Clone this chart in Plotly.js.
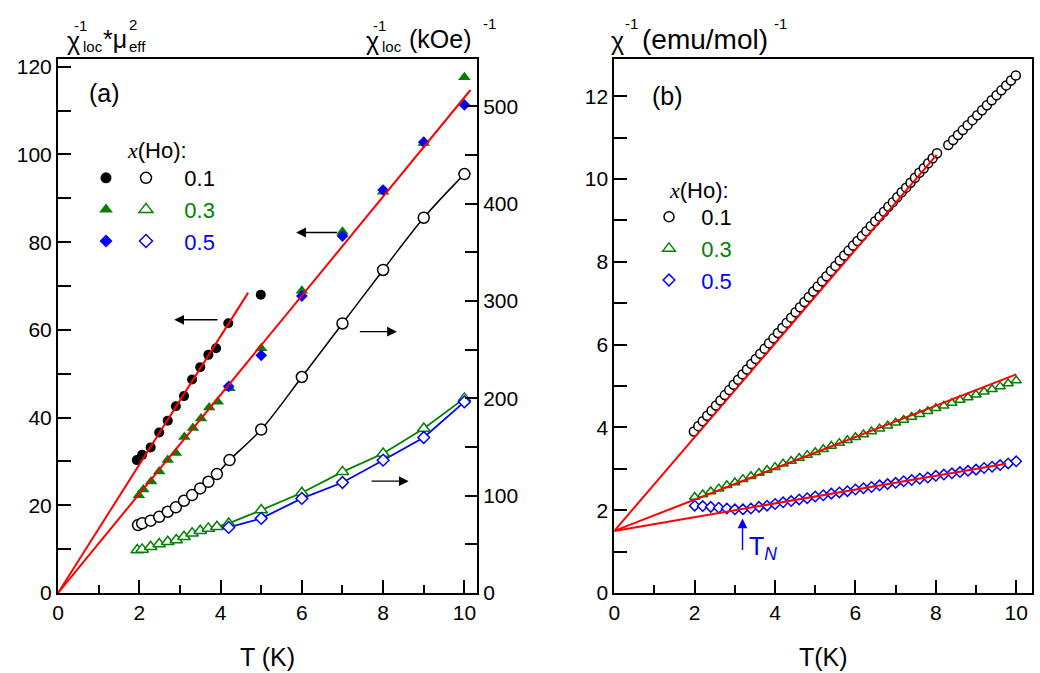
<!DOCTYPE html>
<html>
<head>
<meta charset="utf-8">
<script src="https://cdn.plot.ly/plotly-3.0.1.min.js"></script>
<style>html,body{margin:0;padding:0;background:#fff;}#chart{width:1040px;height:673px;}</style>
</head>
<body>
<div id="chart"></div>
<script>
// ---------- Panel (a) data ----------
// left axis: chi_loc^-1 * mu_eff^2 (filled symbols)
const a_T_fill01 = [1.94, 2.07, 2.28, 2.49, 2.70, 2.90, 3.10, 3.30, 3.50, 3.70, 3.89, 4.19, 4.99];
const a_y_fill01 = [30.3, 31.5, 33.2, 36.6, 39.3, 42.6, 44.9, 48.7, 51.5, 54.3, 55.8, 61.5, 68.0];
const a_T_fill03 = [1.99, 2.10, 2.29, 2.49, 2.70, 2.90, 3.11, 3.32, 3.52, 3.72, 3.93, 4.22, 5, 6, 7, 8, 9, 10];
const a_y_fill03 = [22.3, 23.6, 25.4, 27.7, 30.3, 31.9, 35.6, 37.6, 39.8, 42.3, 43.6, 46.7, 55.8, 68.9, 82.4, 91.5, 102.6, 117.6];
const a_T_fill05 = [4.2, 5, 6, 7, 8, 9, 10];
const a_y_fill05 = [47.1, 54.2, 67.7, 81.4, 91.9, 102.8, 111.3];
// right axis: chi_loc^-1 (kOe)^-1 (open symbols)
const a_T_open01 = [1.97, 2.07, 2.28, 2.49, 2.70, 2.90, 3.10, 3.30, 3.50, 3.70, 3.91, 4.22, 5, 6, 7, 8, 9, 10];
const a_y_open01 = [69.8, 71.6, 74.3, 78.3, 83.5, 88.0, 94.8, 100.6, 107.5, 114.3, 122.2, 136.6, 168, 222, 277, 332, 385.7, 430.5];
const a_T_open03 = [1.95, 2.07, 2.28, 2.49, 2.70, 2.91, 3.10, 3.30, 3.50, 3.70, 3.91, 4.20, 5, 6, 7, 8, 9, 10];
const a_y_open03 = [44.1, 44.8, 47.5, 50.3, 52.7, 54.4, 57.8, 61.3, 64.0, 66.4, 68.1, 71.5, 85.2, 103, 124.5, 143.4, 169, 200];
const a_T_open05 = [4.2, 5, 6, 7, 8, 9, 10];
const a_y_open05 = [67.4, 76.7, 97.2, 113.6, 136.5, 159.8, 196.4];
// linear fits (left axis)
const a_fit1_T = [0, 4.68];
const a_fit1_y = [0, 68.5];
const a_fit2_T = [0, 10.15];
const a_fit2_y = [0, 114.7];

// ---------- Panel (b) data ----------
const b_T_01 = [1.98,2.09,2.20,2.31,2.42,2.53,2.64,2.75,2.86,2.97,3.08,3.19,3.30,3.41,3.52,3.63,3.74,3.85,3.96,4.07,4.18,4.29,4.40,4.51,4.62,4.73,4.84,4.95,5.06,5.17,5.28,5.39,5.50,5.61,5.72,5.83,5.94,6.05,6.16,6.27,6.38,6.49,6.60,6.71,6.82,6.93,7.04,7.15,7.26,7.37,7.48,7.59,7.70,7.81,7.92,8.03,8.31,8.43,8.55,8.67,8.79,8.91,9.03,9.15,9.27,9.39,9.51,9.63,9.75,9.87,9.99];
const b_y_01 = [3.90,4.03,4.15,4.28,4.40,4.53,4.65,4.78,4.90,5.03,5.15,5.28,5.40,5.53,5.65,5.78,5.90,6.03,6.15,6.28,6.40,6.53,6.65,6.78,6.90,7.03,7.15,7.28,7.40,7.53,7.65,7.78,7.90,8.03,8.15,8.27,8.39,8.50,8.62,8.74,8.86,8.98,9.09,9.21,9.33,9.44,9.56,9.68,9.79,9.91,10.03,10.15,10.26,10.38,10.50,10.62,10.82,10.94,11.06,11.18,11.30,11.42,11.54,11.66,11.78,11.90,12.02,12.14,12.26,12.38,12.50];
const b_T_03 = [2.0,2.2,2.4,2.6,2.8,3.0,3.2,3.4,3.6,3.8,4.0,4.2,4.4,4.6,4.8,5.0,5.2,5.4,5.6,5.8,6.0,6.2,6.4,6.6,6.8,7.0,7.2,7.4,7.6,7.8,8.0,8.2,8.4,8.6,8.8,9.0,9.2,9.4,9.6,9.8,10.0];
const b_y_03 = [2.32,2.38,2.45,2.52,2.60,2.67,2.75,2.82,2.90,2.97,3.04,3.12,3.19,3.26,3.33,3.40,3.47,3.55,3.62,3.69,3.76,3.83,3.90,3.97,4.04,4.11,4.18,4.25,4.32,4.39,4.46,4.52,4.59,4.66,4.72,4.79,4.86,4.92,4.99,5.06,5.13];
const b_T_05 = [2.0,2.2,2.4,2.6,2.8,3.0,3.2,3.4,3.6,3.8,4.0,4.2,4.4,4.6,4.8,5.0,5.2,5.4,5.6,5.8,6.0,6.2,6.4,6.6,6.8,7.0,7.2,7.4,7.6,7.8,8.0,8.2,8.4,8.6,8.8,9.0,9.2,9.4,9.6,9.8,10.0];
const b_y_05 = [2.11,2.10,2.08,2.06,2.04,2.02,2.02,2.04,2.08,2.11,2.15,2.19,2.22,2.26,2.29,2.33,2.36,2.40,2.43,2.46,2.50,2.53,2.56,2.60,2.63,2.66,2.70,2.73,2.76,2.79,2.83,2.86,2.89,2.92,2.95,2.98,3.02,3.05,3.09,3.13,3.18];
const b_fit01_T = [0, 8.02];
const b_fit01_y = [1.5, 10.58];
const b_fit03_T = [0, 10.0];
const b_fit03_y = [1.5, 5.28];
const b_fit05_T = [0, 9.75];
const b_fit05_y = [1.5, 3.12];

const seriesLabels = ['0.1', '0.3', '0.5'];
const T_N = 3.19;

// ---------- style ----------
const FONT = 'Liberation Sans, Arial, Helvetica, sans-serif';
const BLACK = '#000000', GREEN = '#008000', BLUE = '#0000ff', RED = '#ff0000';
const W = 1040, H = 673;

function mk(x, y, xa, ya, symbol, size, color, open) {
  return {
    type: 'scatter', mode: 'markers', x: x, y: y, xaxis: xa, yaxis: ya,
    marker: {symbol: symbol, size: size, color: open ? 'white' : color,
             line: {color: color, width: open ? 1.5 : 0}},
    showlegend: false, hoverinfo: 'skip'
  };
}
function ln(x, y, xa, ya, color, width, shape) {
  return {type: 'scatter', mode: 'lines', x: x, y: y, xaxis: xa, yaxis: ya,
          line: {color: color, width: width, shape: shape || 'linear'},
          showlegend: false, hoverinfo: 'skip'};
}
const col = (c, t) => '<span style="color:' + c + '">' + t + '</span>';

const traces = [
  // panel (a) connecting lines (right axis)
  ln(a_T_open01, a_y_open01, 'x', 'y2', BLACK, 1.5, 'spline'),
  ln(a_T_open03, a_y_open03, 'x', 'y2', GREEN, 1.8),
  ln(a_T_open05, a_y_open05, 'x', 'y2', BLUE, 1.8),
  // open markers (right axis)
  mk(a_T_open01, a_y_open01, 'x', 'y2', 'circle', 11, BLACK, true),
  mk(a_T_open03, a_y_open03, 'x', 'y2', 'triangle-up', 11, GREEN, true),
  mk(a_T_open05, a_y_open05, 'x', 'y2', 'diamond', 9, BLUE, true),
  // filled markers (left axis)
  mk(a_T_fill01, a_y_fill01, 'x', 'y', 'circle', 10, BLACK, false),
  mk(a_T_fill03, a_y_fill03, 'x', 'y', 'triangle-up', 11, GREEN, false),
  mk(a_T_fill05, a_y_fill05, 'x', 'y', 'diamond', 9, BLUE, false),
  // fits
  ln(a_fit1_T, a_fit1_y, 'x', 'y', RED, 2),
  ln(a_fit2_T, a_fit2_y, 'x', 'y', RED, 2),
  // panel (b)
  mk(b_T_01, b_y_01, 'x2', 'y3', 'circle', 9, BLACK, true),
  mk(b_T_03, b_y_03, 'x2', 'y3', 'triangle-up', 9, GREEN, true),
  mk(b_T_05, b_y_05, 'x2', 'y3', 'diamond', 8, BLUE, true),
  ln(b_fit01_T, b_fit01_y, 'x2', 'y3', RED, 2),
  ln(b_fit03_T, b_fit03_y, 'x2', 'y3', RED, 2),
  ln(b_fit05_T, b_fit05_y, 'x2', 'y3', RED, 2),
];

// legend-only entries (no data points drawn)
const legSym = [['circle', BLACK, 11], ['triangle-up', GREEN, 12], ['diamond', BLUE, 10]];
legSym.forEach(([s, c, z], i) => traces.push({type: 'scatter', mode: 'markers', x: [null], y: [null], xaxis: 'x', yaxis: 'y',
  name: '&nbsp;', legend: 'legend', marker: {symbol: s, size: z, color: c}, showlegend: true, hoverinfo: 'skip'}));
legSym.forEach(([s, c, z], i) => traces.push({type: 'scatter', mode: 'markers', x: [null], y: [null], xaxis: 'x', yaxis: 'y',
  name: '&nbsp;&nbsp;&nbsp;' + col(c, seriesLabels[i]), legend: 'legend2',
  marker: {symbol: s, size: z, color: 'white', line: {color: c, width: 1.5}}, showlegend: true, hoverinfo: 'skip'}));
legSym.forEach(([s, c, z], i) => traces.push({type: 'scatter', mode: 'markers', x: [null], y: [null], xaxis: 'x2', yaxis: 'y3',
  name: '&nbsp;&nbsp;' + col(c, seriesLabels[i]), legend: 'legend3',
  marker: {symbol: s, size: z - 1, color: 'white', line: {color: c, width: 1.5}}, showlegend: true, hoverinfo: 'skip'}));

const axBase = {
  showline: true, linecolor: 'black', linewidth: 2, showgrid: false, zeroline: false,
  ticks: 'inside', tickcolor: 'black', tickwidth: 2, ticklen: 13,
  tickfont: {family: FONT, size: 21, color: 'black'}, fixedrange: true
};
const yDom = [(H - 593) / H, (H - 59.3) / H];

function P(px, py, text, size, extra) {
  return Object.assign({xref: 'paper', yref: 'paper', x: px / W, y: 1 - py / H, xanchor: 'left', yanchor: 'middle',
    text: text, showarrow: false, font: {family: FONT, size: size, color: 'black'}}, extra || {});
}
function arrow(xa, ya, hx, hy, tx, ty, color) {
  return {xref: xa, yref: ya, axref: xa, ayref: ya, x: hx, y: hy, ax: tx, ay: ty, text: '',
    showarrow: true, arrowhead: 2, arrowsize: 1.4, arrowwidth: 1.4, arrowcolor: color};
}
const xItal = '<span style="font-family:Liberation Serif,Times New Roman,serif"><i>x</i></span>(Ho):';

const annotations = [
  // top-left title
  P(65, 41, 'χ', 25), P(72, 26, '-1', 15), P(81, 47, 'loc', 15), P(101, 39, '*μ', 25), P(127, 25, '2', 15), P(127, 47, 'eff', 15),
  // top-right title of (a)
  P(364, 41, 'χ', 25), P(371, 26, '-1', 15), P(380, 47, 'loc', 15), P(407, 39, '(kOe)', 25), P(481, 24, '-1', 15),
  // title of (b)
  P(609, 41, 'χ', 25), P(623, 24, '-1', 15), P(640, 39, '(emu/mol)', 28), P(772, 24, '-1', 15),
  // panel labels
  P(87, 93, '(a)', 25), P(650, 96, '(b)', 25),
  // legend headers
  P(125, 150, xItal, 22), P(667, 190, xItal, 22),
  // axis titles
  P(267.5, 657, 'T (K)', 25, {xanchor: 'center'}), P(823, 657, 'T(K)', 25, {xanchor: 'center'}),
  // arrows in (a)
  arrow('x', 'y', 2.86, 62.3, 3.96, 62.3, BLACK),
  arrow('x', 'y', 5.86, 82.2, 6.90, 82.2, BLACK),
  arrow('x', 'y', 8.34, 59.6, 7.39, 59.6, BLACK),
  arrow('x', 'y', 8.63, 25.5, 7.68, 25.5, BLACK),
  // T_N marker in (b)
  arrow('x2', 'y3', T_N, 1.80, T_N, 1.0, BLUE),
  {xref: 'x2', yref: 'y3', x: T_N + 0.1, y: 1.08, xanchor: 'left', yanchor: 'middle', showarrow: false,
   text: 'T<sub><i>N</i></sub>', font: {family: FONT, size: 25, color: BLUE}}
];

const legBase = {bgcolor: 'rgba(0,0,0,0)', borderwidth: 0, font: {family: FONT, size: 22, color: 'black'},
  xanchor: 'left', yanchor: 'top', tracegroupgap: 0, itemclick: false, itemdoubleclick: false};

const layout = {
  width: W, height: H, margin: {l: 0, r: 0, t: 0, b: 0}, paper_bgcolor: 'white', plot_bgcolor: 'rgba(0,0,0,0)',
  showlegend: true,
  xaxis: Object.assign({}, axBase, {domain: [58 / W, 477 / W], range: [0, 10.31], anchor: 'y', mirror: true,
    tick0: 0, dtick: 2, minor: {dtick: 1, ticks: 'inside', ticklen: 8, tickwidth: 2, tickcolor: 'black'}}),
  yaxis: Object.assign({}, axBase, {domain: yDom, range: [0, 121.7], anchor: 'x', tick0: 0, dtick: 20,
    minor: {dtick: 10, ticks: 'inside', ticklen: 13, tickwidth: 2, tickcolor: 'black'}}),
  yaxis2: Object.assign({}, axBase, {overlaying: 'y', side: 'right', anchor: 'x', range: [0, 548.5], tick0: 0, dtick: 100,
    ticklen: 12, minor: {dtick: 50, ticks: 'inside', ticklen: 12, tickwidth: 2, tickcolor: 'black'}}),
  xaxis2: Object.assign({}, axBase, {domain: [614.3 / W, 1032.3 / W], range: [0, 10.4], anchor: 'y3', mirror: true,
    tick0: 0, dtick: 2, minor: {dtick: 1, ticks: 'inside', ticklen: 8, tickwidth: 2, tickcolor: 'black'}}),
  yaxis3: Object.assign({}, axBase, {domain: yDom, range: [0, 12.89], anchor: 'x2', mirror: true, tick0: 0, dtick: 2,
    minor: {dtick: 1, ticks: 'inside', ticklen: 13, tickwidth: 2, tickcolor: 'black'}}),
  legend: Object.assign({}, legBase, {x: 86 / W, y: 1 - 157 / H}),
  legend2: Object.assign({}, legBase, {x: 126 / W, y: 1 - 157 / H}),
  legend3: Object.assign({}, legBase, {x: 649 / W, y: 1 - 196 / H}),
  annotations: annotations
};

Plotly.newPlot('chart', traces, layout, {staticPlot: true, displayModeBar: false});
</script>
</body>
</html>
